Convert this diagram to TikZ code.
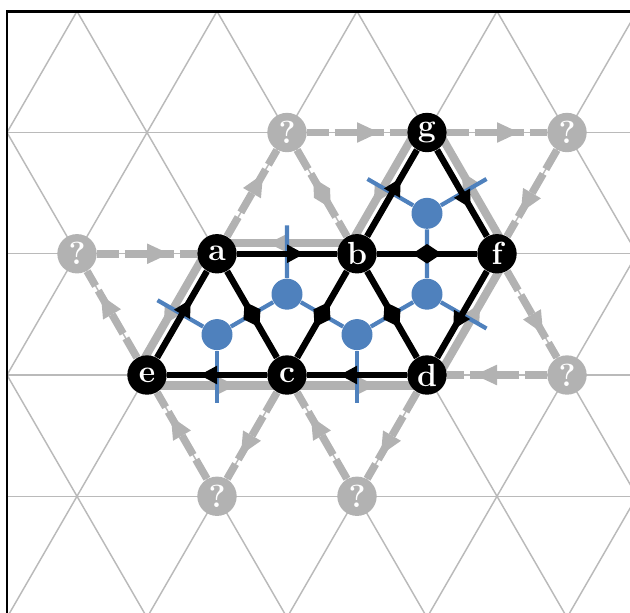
\documentclass[tikz,border=0pt]{standalone}
\usetikzlibrary{calc,decorations.markings}
\definecolor{dualblue}{RGB}{79,129,189}
\definecolor{ghostgray}{RGB}{178,178,178}
\definecolor{gridgray}{RGB}{186,186,186}
\pgfdeclarelayer{background}
\pgfsetlayers{background,main}

\begin{document}
\begin{tikzpicture}[x=1cm, y=1.7321cm,
    % 网格细线
    gridline/.style={gridgray, line width=0.6pt},
    % 黑色顶点
    vtx/.style={
        circle,
        fill=black,
        text=white,
        minimum size=16pt,
        inner sep=0pt,
        font=\bfseries\fontsize{13}{13}\selectfont
    },
    % 灰色未知顶点
    unknown/.style={vtx, fill=ghostgray},
    % 蓝色对偶点与对偶边
    dualdot/.style={circle, fill=dualblue, minimum size=12.6pt, inner sep=0pt},
    dual/.style={dualblue, line width=1.7pt},
    % 黑色边：单向箭头 / 双向菱形
    bond/.style={black, line width=2.6pt},
    fwd/.style={decoration={markings, mark=at position 0.5 with {\fill[black] (7pt,0) -- (0,3.8pt) -- (0,-3.8pt) -- cycle;}}, postaction={decorate}},
    twoway/.style={decoration={markings, mark=at position 0.5 with {\fill[black] (6pt,0) -- (0,4pt) -- (-6pt,0) -- (0,-4pt) -- cycle;}}, postaction={decorate}},
    % 灰色外轮廓
    outline/.style={ghostgray, line width=3.3pt, decoration={markings, mark=at position 0.5 with {\fill[ghostgray] (7.5pt,0) -- (0,3.8pt) -- (0,-3.8pt) -- cycle;}}, postaction={decorate}},
    % 灰色虚线边
    ghost/.style={ghostgray, line width=3.1pt, dash pattern=on 9pt off 2.2pt, decoration={markings, mark=at position 0.5 with {\fill[ghostgray] (9pt,0) -- (0,4.2pt) -- (0,-4.2pt) -- cycle;}}, postaction={decorate}},
    ghosttwoway/.style={ghostgray, line width=3.1pt, dash pattern=on 9pt off 2.2pt, decoration={markings, mark=at position 0.5 with {\fill[ghostgray] (7pt,0) -- (0,3.8pt) -- (-7pt,0) -- (0,-3.8pt) -- cycle;}}, postaction={decorate}}
]
    \useasboundingbox (-0.1,-1.955) rectangle (8.9,3.093);
    \clip (-0.1,-1.955) rectangle (8.9,3.093);

    % ================== 三角网格 ==================
    \begin{pgfonlayer}{background}
        \begin{scope}
            \clip (0,-1.955) rectangle (8.9,3);
            \foreach \yy in {-1,...,2}
                \draw[gridline] (0,\yy) -- (9,\yy);
            \foreach \k in {-2,...,7} {
                \draw[gridline] (2*\k-2,-2) -- (2*\k+4,4);
                \draw[gridline] (2*\k+2,-2) -- (2*\k-4,4);
            }
        \end{scope}
    \end{pgfonlayer}

    % 外框
    \draw[line width=1.2pt] (0,-2.5) -- (0,3) -- (9.5,3);

    % ================== 顶点 ==================
    \node[vtx] (a) at (3,1) {a};
    \node[vtx] (b) at (5,1) {b};
    \node[vtx] (g) at (6,2) {g};
    \node[vtx] (f) at (7,1) {f};
    \node[vtx] (d) at (6,0) {d};
    \node[vtx] (c) at (4,0) {c};
    \node[vtx] (e) at (2,0) {e};

    % 外侧问号
    \node[unknown] (q_left) at (1,1) {?};
    \node[unknown] (q_top) at (4,2) {?};
    \node[unknown] (q_topright) at (8,2) {?};
    \node[unknown] (q_right) at (8,0) {?};
    \node[unknown] (q_botleft) at (3,-1) {?};
    \node[unknown] (q_botright) at (5,-1) {?};

    % 三角形中心（对偶点）
    \node[dualdot] (t1) at (3,1/3) {};
    \node[dualdot] (t2) at (4,2/3) {};
    \node[dualdot] (t3) at (5,1/3) {};
    \node[dualdot] (t4) at (6,2/3) {};
    \node[dualdot] (t5) at (6,4/3) {};

    % ================== 灰色外轮廓 ==================
    \begin{pgfonlayer}{background}
        \foreach \u/\v in {a/b, b/g, g/f, f/d, d/c, c/e, e/a}
            \draw[outline] ($(\v)!0.15cm!-90:(\u)$) -- ($(\u)!0.15cm!90:(\v)$);
    \end{pgfonlayer}

    % ================== 灰色虚线 ==================
    \draw[ghost] (q_left) -- (a);
    \draw[ghost] (e) -- (q_left);
    \draw[ghost] (a) -- (q_top);
    \draw[ghosttwoway] (q_top) -- (b);
    \draw[ghost] (q_top) -- (g);
    \draw[ghost] (g) -- (q_topright);
    \draw[ghost] (q_topright) -- (f);
    \draw[ghost] (f) -- (q_right);
    \draw[ghost] (q_right) -- (d);
    \draw[ghost] (d) -- (q_botright);
    \draw[ghost] (q_botright) -- (c);
    \draw[ghost] (c) -- (q_botleft);
    \draw[ghost] (q_botleft) -- (e);

    % ================== 蓝色对偶边 ==================
    \draw[dual] (t1) -- (t2) -- (t3) -- (t4) -- (t5);
    \foreach \t/\u/\v in {t1/e/c, t1/e/a, t2/a/b, t3/c/d, t4/d/f, t5/b/g, t5/g/f}
        \draw[dual] (\t) -- ($(\t)!1.7!($(\u)!0.5!(\v)$)$);

    % ================== 黑色边 ==================
    \draw[bond, fwd] (a) -- (b);
    \draw[bond, fwd] (b) -- (g);
    \draw[bond, fwd] (g) -- (f);
    \draw[bond, fwd] (f) -- (d);
    \draw[bond, fwd] (d) -- (c);
    \draw[bond, fwd] (c) -- (e);
    \draw[bond, fwd] (e) -- (a);
    \draw[bond, twoway] (a) -- (c);
    \draw[bond, twoway] (b) -- (c);
    \draw[bond, twoway] (b) -- (d);
    \draw[bond, twoway] (b) -- (f);

\end{tikzpicture}
\end{document}
